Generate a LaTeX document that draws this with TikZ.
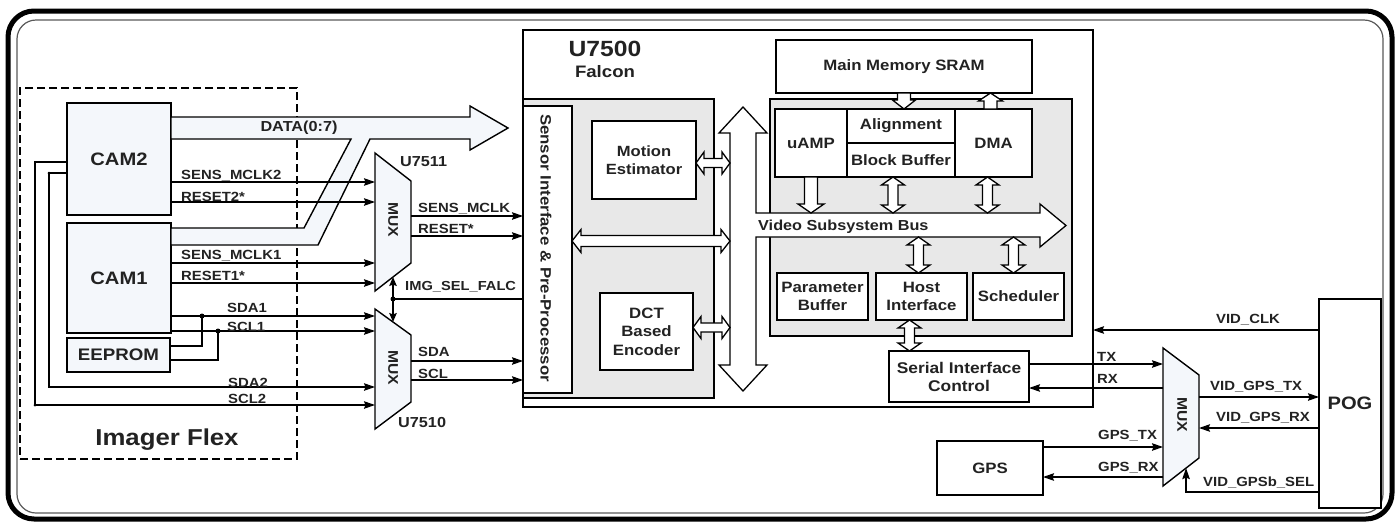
\documentclass[tikz,border=0pt]{standalone}
\usepackage{fontspec}
\setmainfont{Liberation Sans}[FakeStretch=1.12]
\usetikzlibrary{arrows.meta,calc}
\definecolor{tc}{HTML}{222222}
\definecolor{pale}{HTML}{F4F7FB}
\definecolor{panel}{HTML}{E8E8E8}
\newcommand\fsz[2]{\fontsize{#1}{#2}\selectfont}
% hollow horizontal double arrow: #1 y-source, #2 left x, #3 right x, #4 head half, #5 shaft half, #6 head length
\newcommand\hdarrow[6]{\filldraw[hollow] let \p1=(#1), \p2=(#2), \p3=(#3) in
 (\x2,\y1) -- (\x2+#6,\y1+#4) -- (\x2+#6,\y1+#5) -- (\x3-#6,\y1+#5) -- (\x3-#6,\y1+#4) -- (\x3,\y1)
 -- (\x3-#6,\y1-#4) -- (\x3-#6,\y1-#5) -- (\x2+#6,\y1-#5) -- (\x2+#6,\y1-#4) -- cycle;}
% hollow vertical double arrow: #1 x-source, #2 top, #3 bottom
\newcommand\vdarrow[6]{\filldraw[hollow] let \p1=(#1), \p2=(#2), \p3=(#3) in
 (\x1,\y2) -- (\x1+#4,\y2-#6) -- (\x1+#5,\y2-#6) -- (\x1+#5,\y3+#6) -- (\x1+#4,\y3+#6) -- (\x1,\y3)
 -- (\x1-#4,\y3+#6) -- (\x1-#5,\y3+#6) -- (\x1-#5,\y2-#6) -- (\x1-#4,\y2-#6) -- cycle;}
% hollow down arrow (tip at bottom)
\newcommand\vdown[6]{\filldraw[hollow] let \p1=(#1), \p2=(#2), \p3=(#3) in
 (\x1-#5,\y2) -- (\x1-#5,\y3+#6) -- (\x1-#4,\y3+#6) -- (\x1,\y3) -- (\x1+#4,\y3+#6) -- (\x1+#5,\y3+#6) -- (\x1+#5,\y2) -- cycle;}
% hollow up arrow (tip at top)
\newcommand\vup[6]{\filldraw[hollow] let \p1=(#1), \p2=(#2), \p3=(#3) in
 (\x1-#5,\y3) -- (\x1-#5,\y2-#6) -- (\x1-#4,\y2-#6) -- (\x1,\y2) -- (\x1+#4,\y2-#6) -- (\x1+#5,\y2-#6) -- (\x1+#5,\y3) -- cycle;}
\tikzset{
 lbl/.style={font=\bfseries\fsz{13.3}{15}, text=tc, inner sep=0pt, anchor=west},
 box/.style={draw, line width=1.4pt, fill=white, inner sep=0pt, outer sep=0pt, text=tc, font=\bfseries\fsz{15}{18}, align=center},
 ghost/.style={inner sep=0pt, outer sep=0pt},
 wire/.style={line width=1.4pt},
 sig/.style={line width=1.4pt, -{Stealth[length=11pt,width=7.5pt,inset=1.5pt]}},
 sigboth/.style={line width=1.4pt, {Stealth[length=9pt,width=7.5pt,inset=1.5pt]}-{Stealth[length=9pt,width=7.5pt,inset=1.5pt]}},
 hollow/.style={fill=white, draw, line width=1.3pt, line join=miter},
 muxshape/.style={draw, line width=1.4pt, fill=pale, line join=miter},
 muxlbl/.style={rotate=-90, font=\bfseries\fsz{14}{17}, text=tc, inner sep=0pt},
 jdot/.style={circle, fill=black, inner sep=0pt, minimum size=5pt},
}
\begin{document}
\begin{tikzpicture}[x=1pt,y=-1pt]
\useasboundingbox (0,0) rectangle (1400,523);
% outer frame
\draw[line width=5pt, rounded corners=26pt] (8,11) rectangle (1392,519);
\draw[line width=1.2pt, draw=black!65, rounded corners=19pt] (17,20) rectangle (1383,513);

% signal levels
\coordinate (ySMCb) at (0,182);
\coordinate (yRSTb) at (0,202);
\coordinate (ySMCa) at (0,263);
\coordinate (yRSTa) at (0,283);
\coordinate (ySDAa) at (0,316);
\coordinate (ySCLa) at (0,331);
\coordinate (ySDAb) at (0,387);
\coordinate (ySCLb) at (0,405);
\coordinate (ySMC) at (0,216);
\coordinate (yRST) at (0,236);
\coordinate (yIMG) at (0,299);
\coordinate (ySDA) at (0,361);
\coordinate (ySCL) at (0,380);
\coordinate (yCamA) at (0,162);
\coordinate (yCamB) at (0,173);
\coordinate (xSCLb) at (35,0);
\coordinate (xSDAb) at (49,0);
\coordinate (yEEa) at (0,346);
\coordinate (yEEb) at (0,360);
\coordinate (jSDA) at (202,316);
\coordinate (jSCL) at (218,331);
\coordinate (yVCLK) at (0,330);
\coordinate (yTX) at (0,364);
\coordinate (yRX) at (0,388);
\coordinate (yVGTX) at (0,397);
\coordinate (yVGRX) at (0,428);
\coordinate (yGTX) at (0,447);
\coordinate (yGRX) at (0,477);
\coordinate (ySEL) at (0,492);
\coordinate (vbusT) at (0,213);
\coordinate (vbusB) at (0,237);
\coordinate (busL) at (730,0);
\coordinate (yLong) at (0,241);

% Imager flex
\node[draw, line width=1.4pt, dash pattern=on 8pt off 4pt, minimum width=277pt, minimum height=371pt, ghost] (flex) at (158.5,273.5) {};
\node[font=\bfseries\fsz{23}{26}, text=tc, inner sep=0pt] (flexlbl) at (167,440) {Imager Flex};

% cameras
\node[box, fill=pale, minimum width=104pt, minimum height=112pt, font=\bfseries\fsz{18}{22}] (cam2) at (119,159) {CAM2};
\node[box, fill=pale, minimum width=104pt, minimum height=110pt, font=\bfseries\fsz{18}{22}] (cam1) at (119,278) {CAM1};
\node[box, fill=pale, minimum width=103pt, minimum height=34pt, font=\bfseries\fsz{16.7}{20}] (eeprom) at (118.5,355) {EEPROM};

% DATA bus
\filldraw[wire, fill=pale, line join=miter] (171,117) -- (470,117) -- (470,106) -- (508,128) -- (470,150) -- (470,139) -- (370,139) -- (318,245) -- (171,245) -- (171,228) -- (304,228) -- (351,139) -- (171,139) -- cycle;
\node[font=\bfseries\fsz{14.5}{16}, text=tc, inner sep=0pt] (datalbl) at (299,128) {DATA(0:7)};

% MUXes
\node[ghost, minimum width=36pt, minimum height=138pt] (mux1) at (393,222) {};
\draw[muxshape] (mux1.north west) -- ([yshift=-28pt]mux1.north east) -- ([yshift=28pt]mux1.south east) -- (mux1.south west) -- cycle;
\node[muxlbl] (mux1lbl) at (393,220) {MUX};
\node[lbl, font=\bfseries\fsz{14.5}{16}] (u7511) at (400,162) {U7511};

\node[ghost, minimum width=36pt, minimum height=120pt] (mux2) at (393,369) {};
\draw[muxshape] (mux2.north west) -- ([yshift=-26pt]mux2.north east) -- ([yshift=27pt]mux2.south east) -- (mux2.south west) -- cycle;
\node[muxlbl] (mux2lbl) at (393,368) {MUX};
\node[lbl, font=\bfseries\fsz{14.5}{16}] (u7510) at (398,422) {U7510};

\node[ghost, minimum width=36pt, minimum height=138pt] (mux3) at (1181,417) {};
\draw[muxshape] (mux3.north west) -- ([yshift=-27pt]mux3.north east) -- ([yshift=28pt]mux3.south east) -- (mux3.south west) -- cycle;
\node[muxlbl] (mux3lbl) at (1182,415) {MUX};

% U7500
\node[box, minimum width=570pt, minimum height=377pt] (u7500) at (808,218.5) {};
\node[font=\bfseries\fsz{22}{24}, text=tc, inner sep=0pt] (u7500lbl) at (605,49) {U7500};
\node[font=\bfseries\fsz{16.6}{18}, text=tc, inner sep=0pt] (falcon) at (605,72) {Falcon};
\node[box, fill=panel, minimum width=191pt, minimum height=299pt] (pleft) at (618.5,248.5) {};
\node[box, fill=panel, minimum width=302pt, minimum height=237pt] (pright) at (921,217.5) {};
\node[box, minimum width=49pt, minimum height=287pt] (sensor) at (547.5,249.5) {};
\node[rotate=-90, font=\bfseries\fsz{15}{18}, text=tc, inner sep=0pt] (sensorlbl) at (546,248) {Sensor Interface \& Pre-Processor};
\node[box, minimum width=104pt, minimum height=78pt, font=\bfseries\fsz{14.8}{18}] (motion) at (644,160) {Motion\\Estimator};
\node[box, minimum width=93pt, minimum height=77pt, font=\bfseries\fsz{15}{18.5}] (dct) at (646.5,331.5) {DCT\\Based\\Encoder};

% video bus (vertical + horizontal)
\filldraw[hollow] (743,107) -- (767,133) -- (756,133) -- (756,213) -- (1040,213) -- (1040,204) -- (1066,225.5) -- (1040,247) -- (1040,237) -- (756,237) -- (756,365) -- (767,365) -- (743,391) -- (719,365) -- (730,365) -- (730,133) -- (719,133) -- cycle;
\node[lbl, font=\bfseries\fsz{14.5}{17}] (vsb) at (758,227) {Video Subsystem Bus};

\node[box, minimum width=256pt, minimum height=53pt] (mem) at (904,66.5) {Main Memory SRAM};
\node[box, minimum width=72pt, minimum height=68pt] (uamp) at (811,143) {uAMP};
\node[box, minimum width=108pt, minimum height=34pt] (align) at (901,126) {Alignment};
\node[box, minimum width=108pt, minimum height=34pt] (bbuf) at (901,160) {Block Buffer};
\node[box, minimum width=77pt, minimum height=68pt] (dma) at (993.5,143) {DMA};
\node[box, minimum width=91pt, minimum height=47pt, font=\bfseries\fsz{15}{17.5}] (param) at (822.5,296.5) {Parameter\\Buffer};
\node[box, minimum width=91pt, minimum height=47pt, font=\bfseries\fsz{15}{18.5}] (host) at (921.5,296.5) {Host\\Interface};
\node[box, minimum width=91pt, minimum height=47pt] (sched) at (1018.5,296.5) {Scheduler};
\node[box, minimum width=140pt, minimum height=51pt, font=\bfseries\fsz{15.5}{18}] (sic) at (959,376.5) {Serial Interface\\Control};
\node[box, minimum width=62pt, minimum height=209pt, font=\bfseries\fsz{18}{22}] (pog) at (1350,403.5) {POG};
\node[box, minimum width=106pt, minimum height=54pt, font=\bfseries\fsz{15}{18}] (gps) at (990,468) {GPS};

% hollow connectors
\hdarrow{[yshift=-3pt]motion.east}{motion.east}{busL}{11pt}{4.5pt}{8pt}
\hdarrow{[yshift=4pt]dct.east}{dct.east}{busL}{11pt}{4.5pt}{8pt}
\hdarrow{yLong}{sensor.east}{busL}{11.5pt}{5.5pt}{9pt}
\vdown{mem.south}{mem.south}{align.north}{11.5pt}{6.5pt}{9pt}
\vup{[xshift=-3pt]dma.north}{mem.south}{dma.north}{12pt}{6.5pt}{8pt}
\vdown{uamp.south}{uamp.south}{vbusT}{13pt}{6.5pt}{9pt}
\vdarrow{[xshift=-8pt]bbuf.south}{bbuf.south}{vbusT}{11.5pt}{5pt}{8pt}
\vdarrow{[xshift=-6pt]dma.south}{dma.south}{vbusT}{11.5pt}{5pt}{8pt}
\vdarrow{[xshift=-3pt]host.north}{vbusB}{host.north}{11.5pt}{5pt}{8pt}
\vdarrow{[xshift=-5pt]sched.north}{vbusB}{sched.north}{11.5pt}{5pt}{8pt}
\vdarrow{[xshift=-12pt]host.south}{host.south}{sic.north}{11.5pt}{5pt}{8pt}

% camera signals
\draw[sig] (cam2.east |- ySMCb) -- (mux1.west |- ySMCb);
\draw[sig] (cam2.east |- yRSTb) -- (mux1.west |- yRSTb);
\draw[sig] (cam1.east |- ySMCa) -- (mux1.west |- ySMCa);
\draw[sig] (cam1.east |- yRSTa) -- (mux1.west |- yRSTa);
\draw[sig] (cam1.east |- ySDAa) -- (mux2.west |- ySDAa);
\draw[sig] (cam1.east |- ySCLa) -- (mux2.west |- ySCLa);
\draw[wire] (eeprom.east |- yEEa) -| (jSDA);
\draw[wire] (eeprom.east |- yEEb) -| (jSCL);
\node[jdot] (dsda) at (jSDA) {};
\node[jdot] (dscl) at (jSCL) {};
\draw[sig] (cam2.west |- yCamB) -| (xSDAb |- ySDAb) -- (mux2.west |- ySDAb);
\draw[sig] (cam2.west |- yCamA) -| (xSCLb |- ySCLb) -- (mux2.west |- ySCLb);
\node[circle, fill=black, inner sep=0pt, minimum size=3pt] (dsclb) at (xSCLb |- ySCLb) {};
\node[circle, fill=black, inner sep=0pt, minimum size=3pt] (dsdab) at (xSDAb |- yCamB) {};

\node[lbl] (l1) at (181,176) {SENS\_MCLK2};
\node[lbl] (l2) at (181,197) {RESET2*};
\node[lbl] (l3) at (181,256) {SENS\_MCLK1};
\node[lbl] (l4) at (181,276) {RESET1*};
\node[lbl] (l5) at (227,308) {SDA1};
\node[lbl] (l6) at (227,327) {SCL1};
\node[lbl] (l7) at (228,383) {SDA2};
\node[lbl] (l8) at (228,399) {SCL2};

% mux outputs
\draw[sig] (mux1.east |- ySMC) -- (sensor.west |- ySMC);
\draw[sig] (mux1.east |- yRST) -- (sensor.west |- yRST);
\draw[sig] (mux2.east |- ySDA) -- (sensor.west |- ySDA);
\draw[sig] (mux2.east |- ySCL) -- (sensor.west |- ySCL);
\draw[sigboth] ([yshift=14pt]mux1.south) -- ([yshift=-13pt]mux2.north);
\node[jdot] (dimg) at (mux1.south |- yIMG) {};
\draw[wire] (dimg.center) -- (sensor.west |- yIMG);
\node[lbl] (l9) at (418,209) {SENS\_MCLK};
\node[lbl] (l10) at (418,229) {RESET*};
\node[lbl, font=\bfseries\fsz{13.1}{15}] (l11) at (405,287) {IMG\_SEL\_FALC};
\node[lbl] (l12) at (418,352) {SDA};
\node[lbl] (l13) at (418,374) {SCL};

% right side signals
\draw[sig] (pog.west |- yVCLK) -- (u7500.east |- yVCLK);
\draw[sig] (sic.east |- yTX) -- (mux3.west |- yTX);
\draw[sig] (mux3.west |- yRX) -- (sic.east |- yRX);
\draw[sig] (mux3.east |- yVGTX) -- (pog.west |- yVGTX);
\draw[sig] (pog.west |- yVGRX) -- (mux3.east |- yVGRX);
\draw[sig] (gps.east |- yGTX) -- (mux3.west |- yGTX);
\draw[sig] (mux3.west |- yGRX) -- (gps.east |- yGRX);
\coordinate (selp) at ($(mux3.south west)!0.64!([yshift=28pt]mux3.south east)$);
\draw[sig] (pog.west |- ySEL) -| (selp);
\node[font=\bfseries\fsz{13.3}{15}, text=tc, inner sep=0pt] (l14) at (1248,320) {VID\_CLK};
\node[lbl] (l15) at (1097,357) {TX};
\node[lbl] (l16) at (1097,379) {RX};
\node[lbl] (l17) at (1210,387) {VID\_GPS\_TX};
\node[lbl] (l18) at (1216,418) {VID\_GPS\_RX};
\node[lbl] (l19) at (1098,436) {GPS\_TX};
\node[lbl] (l20) at (1098,468) {GPS\_RX};
\node[lbl] (l21) at (1203,482) {VID\_GPSb\_SEL};
\end{tikzpicture}
\end{document}
